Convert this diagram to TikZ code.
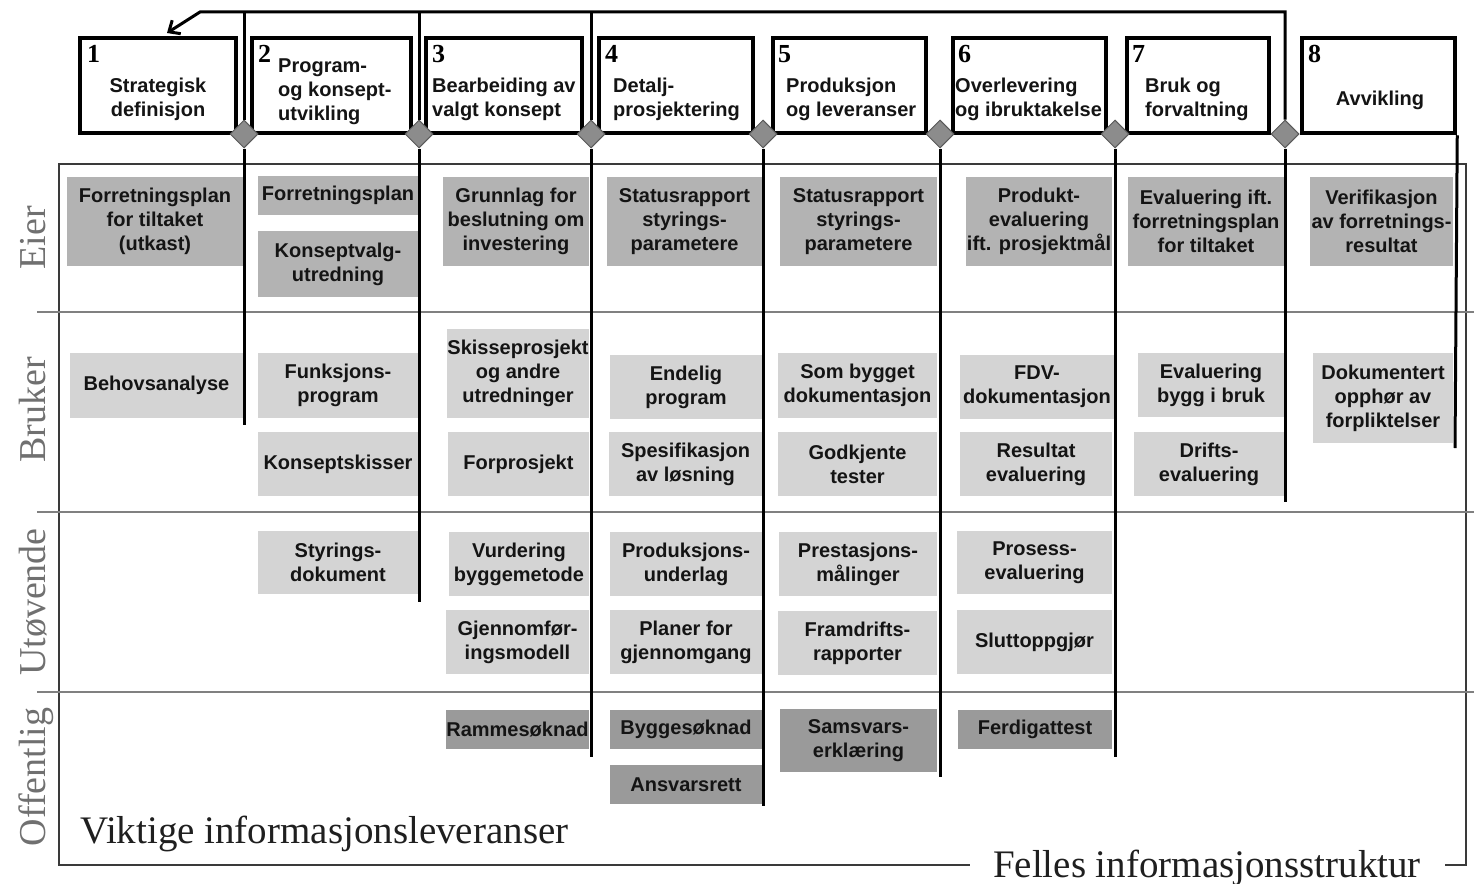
\documentclass[tikz,border=0pt]{standalone}
\usepackage{fontspec}
\setmainfont{Liberation Serif}
\setsansfont{Liberation Sans}
\usetikzlibrary{shapes.geometric,arrows.meta}
\definecolor{eiergray}{HTML}{B3B3B3}
\definecolor{lysgray}{HTML}{D4D4D4}
\definecolor{offgray}{HTML}{9A9A9A}
\definecolor{diagray}{HTML}{8C8C8C}
\definecolor{lanegray}{HTML}{808080}
\definecolor{labelgray}{HTML}{707070}
\definecolor{textdark}{HTML}{141414}
\definecolor{framegray}{HTML}{3A3A3A}
\begin{document}
\begin{tikzpicture}[x=1pt,y=-1pt,
  deliv/.style={inner sep=0pt, align=center, text=textdark,
    font=\sffamily\bfseries\fontsize{20}{24}\selectfont},
  wh/.style 2 args={minimum width=#1pt, minimum height=#2pt},
  eier/.style={deliv, fill=eiergray},
  lys/.style={deliv, fill=lysgray},
  off/.style={deliv, fill=offgray},
  phase/.style={draw=black, line width=4.5pt, fill=white, inner sep=0pt},
  ptxt/.style={inner sep=0pt, text=textdark, font=\sffamily\bfseries\fontsize{20}{24}\selectfont},
  num/.style={inner sep=0pt, anchor=north west, font=\rmfamily\bfseries\fontsize{26}{30}\selectfont},
  dia/.style={diamond, aspect=1, minimum width=28pt, minimum height=28pt, inner sep=0pt,
    fill=diagray, draw=black!65, line width=1pt},
  conn/.style={draw=black, line width=3pt},
  lanelbl/.style={inner sep=0pt, rotate=90, anchor=base, text=labelgray,
    font=\rmfamily\fontsize{38}{44}\selectfont},
  bigtxt/.style={inner sep=0pt, text=black!88, font=\rmfamily\fontsize{39}{44}\selectfont},
  lane/.style={draw=lanegray, line width=2pt},
  frame/.style={draw=framegray, line width=2pt}
]
\useasboundingbox (0,0) rectangle (1474,883);

% frame and lanes
\draw[frame] (1445,865) -- (1466,865) -- (1466,164) -- (59,164) -- (59,865) -- (970,865);
\draw[lane] (37,312) -- (1474,312);
\draw[lane] (37,512) -- (1474,512);
\draw[lane] (37,692) -- (1474,692);

% lane labels
\node[lanelbl] (lEier) at (45,238) {Eier};
\node[lanelbl] (lBruker) at (45,410) {Bruker};
\node[lanelbl] (lUtov) at (45,602) {Utøvende};
\node[lanelbl] (lOff) at (45,777) {Offentlig};

\node[bigtxt, anchor=base west] (viktig) at (80,843) {Viktige informasjonsleveranser};
\node[bigtxt, anchor=base] (felles) at (1207,877) {Felles informasjonsstruktur};

% column 1
\node[eier, wh={176}{89}] (e1a) at (155,221.5) {Forretningsplan\\for tiltaket\\(utkast)};
\node[lys, wh={173}{65}] (b1a) at (156.5,385.5) {Behovsanalyse};
% column 2
\node[eier, wh={160}{39}] (e2a) at (338,195.5) {Forretningsplan};
\node[eier, wh={160}{66}] (e2b) at (338,264) {Konseptvalg-\\utredning};
\node[lys, wh={160}{65}] (b2a) at (338,385.5) {Funksjons-\\program};
\node[lys, wh={160}{64}] (b2b) at (338,464) {Konseptskisser};
\node[lys, wh={160}{63}] (u2a) at (338,562.5) {Styrings-\\dokument};
% column 3
\node[eier, wh={146}{89}] (e3a) at (516,221.5) {Grunnlag for\\beslutning om\\investering};
\node[lys, wh={142}{89}] (b3a) at (518,373.5) {Skisseprosjekt\\og andre\\utredninger};
\node[lys, wh={141}{64}] (b3b) at (518.5,464) {Forprosjekt};
\node[lys, wh={140}{64}] (u3a) at (519,564) {Vurdering\\byggemetode};
\node[lys, wh={143}{64}] (u3b) at (517.5,642) {Gjennomfør-\\ingsmodell};
\node[off, wh={143}{39}] (o3a) at (517.5,729.5) {Rammesøknad};
% column 4
\node[eier, wh={155}{89}] (e4a) at (684.5,221.5) {Statusrapport\\styrings-\\parametere};
\node[lys, wh={152}{64}] (b4a) at (686,387) {Endelig\\program};
\node[lys, wh={153}{64}] (b4b) at (685.5,464) {Spesifikasjon\\av løsning};
\node[lys, wh={152}{64}] (u4a) at (686,564) {Produksjons-\\underlag};
\node[lys, wh={152}{64}] (u4b) at (686,642) {Planer for\\gjennomgang};
\node[off, wh={152}{39}] (o4a) at (686,729.5) {Byggesøknad};
\node[off, wh={152}{39}] (o4b) at (686,784.5) {Ansvarsrett};
% column 5
\node[eier, wh={157}{89}] (e5a) at (858.5,221.5) {Statusrapport\\styrings-\\parametere};
\node[lys, wh={159}{65}] (b5a) at (857.5,385.5) {Som bygget\\dokumentasjon};
\node[lys, wh={159}{64}] (b5b) at (857.5,464) {Godkjente\\tester};
\node[lys, wh={158}{64}] (u5a) at (858,564) {Prestasjons-\\målinger};
\node[lys, wh={159}{64}] (u5b) at (857.5,643) {Framdrifts-\\rapporter};
\node[off, wh={157}{63}] (o5a) at (858.5,740.5) {Samsvars-\\erklæring};
% column 6
\node[eier, wh={146}{89}] (e6a) at (1039,221.5) {Produkt-\\evaluering\\ift. prosjektmål};
\node[lys, wh={154}{64}] (b6a) at (1037,387) {FDV-\\dokumentasjon};
\node[lys, wh={152}{64}] (b6b) at (1036,464) {Resultat\\evaluering};
\node[lys, wh={155}{63}] (u6a) at (1034.5,562.5) {Prosess-\\evaluering};
\node[lys, wh={155}{64}] (u6b) at (1034.5,642) {Sluttoppgjør};
\node[off, wh={154}{39}] (o6a) at (1035,729.5) {Ferdigattest};
% column 7
\node[eier, wh={156}{89}] (e7a) at (1206,221.5) {Evaluering ift.\\forretningsplan\\for tiltaket};
\node[lys, wh={146}{64}] (b7a) at (1211,385) {Evaluering\\bygg i bruk};
\node[lys, wh={150}{64}] (b7b) at (1209,464) {Drifts-\\evaluering};
% column 8
\node[eier, wh={143}{89}] (e8a) at (1381.5,221.5) {Verifikasjon\\av forretnings-\\resultat};
\node[lys, wh={140}{90}] (b8a) at (1383,398) {Dokumentert\\opphør av\\forpliktelser};

% phase boxes
\node[phase, wh={156}{95}] (p1) at (158,85.5) {};
\node[phase, wh={159}{95}] (p2) at (331.5,85.5) {};
\node[phase, wh={156}{95}] (p3) at (504,85.5) {};
\node[phase, wh={154}{95}] (p4) at (676,85.5) {};
\node[phase, wh={153}{95}] (p5) at (849.5,85.5) {};
\node[phase, wh={153}{95}] (p6) at (1029.5,85.5) {};
\node[phase, wh={142}{95}] (p7) at (1198,85.5) {};
\node[phase, wh={153}{95}] (p8) at (1378.5,85.5) {};

\node[num] (n1) at (87,45) {1};
\node[num] (n2) at (258,45) {2};
\node[num] (n3) at (432,45) {3};
\node[num] (n4) at (605,45) {4};
\node[num] (n5) at (778,45) {5};
\node[num] (n6) at (958,45) {6};
\node[num] (n7) at (1132,45) {7};
\node[num] (n8) at (1308,45) {8};

\node[ptxt, align=center] (s1) at (158,99) {Strategisk\\definisjon};
\node[ptxt, align=left, anchor=west] (s2) at (278,92) {Program-\\og konsept-\\utvikling};
\node[ptxt, align=left, anchor=west] (s3) at (432,99) {Bearbeiding av\\valgt konsept};
\node[ptxt, align=left, anchor=west] (s4) at (613,99) {Detalj-\\prosjektering};
\node[ptxt, align=left, anchor=west] (s5) at (786,99) {Produksjon\\og leveranser};
\node[ptxt, align=left, anchor=west] (s6) at (955,99) {Overlevering\\og ibruktakelse};
\node[ptxt, align=left, anchor=west] (s7) at (1145,99) {Bruk og\\forvaltning};
\node[ptxt, align=center] (s8) at (1380,100) {Avvikling};

% diamonds
\node[dia] (d1) at (244,134) {};
\node[dia] (d2) at (419,134) {};
\node[dia] (d3) at (591,134) {};
\node[dia] (d4) at (763,134) {};
\node[dia] (d5) at (940,134) {};
\node[dia] (d6) at (1115,134) {};
\node[dia] (d7) at (1285,134) {};

% connector coordinates
\coordinate (ta) at (200,12);
\coordinate (a1) at (167,33);
\coordinate (t1) at (244,12);
\coordinate (t2) at (419,12);
\coordinate (t3) at (591,12);
\coordinate (t7) at (1285,12);
\coordinate (b1) at (244,425);
\coordinate (b2) at (419,602);
\coordinate (b3) at (591,757);
\coordinate (b4) at (763,806);
\coordinate (b5) at (940,777);
\coordinate (b6) at (1115,757);
\coordinate (b7) at (1285,502);
\coordinate (b8) at (1455,448);

% connectors
\draw[conn, -{Straight Barb[length=9pt,width=16pt,line width=3pt]}] (d7.north) -- (t7) -- (ta) -- (a1);
\draw[conn] (t1) -- (d1.north);
\draw[conn] (t2) -- (d2.north);
\draw[conn] (t3) -- (d3.north);
\draw[conn] (d1.south) -- (b1);
\draw[conn] (d2.south) -- (b2);
\draw[conn] (d3.south) -- (b3);
\draw[conn] (d4.south) -- (b4);
\draw[conn] (d5.south) -- (b5);
\draw[conn] (d6.south) -- (b6);
\draw[conn] (d7.south) -- (b7);
\draw[conn] (p8.south east) -- (b8);
\end{tikzpicture}
\end{document}
